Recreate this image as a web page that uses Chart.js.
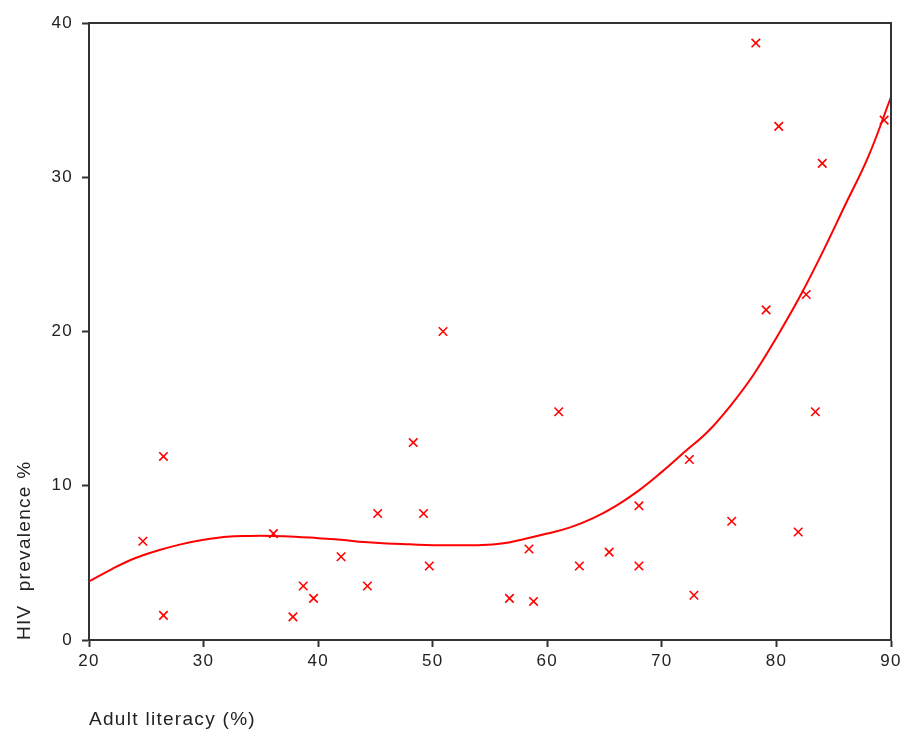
<!DOCTYPE html>
<html>
<head>
<meta charset="utf-8">
<script src="https://cdn.jsdelivr.net/npm/chart.js@4/dist/chart.umd.min.js"></script>
<style>
  html, body { margin: 0; padding: 0; background: #fff; }
  #wrap { width: 906px; height: 736px; }
</style>
</head>
<body>
<div id="wrap"><canvas id="c" width="906" height="736"></canvas></div>
<script>
// Scatter data: adult literacy (%) vs HIV prevalence (%)
const literacy = [24.7, 26.5, 26.5, 36.1, 37.8, 38.7, 39.6, 42.0, 44.3, 45.2, 48.3, 49.2, 49.7, 50.9,
  56.7, 58.4, 58.8, 61.0, 62.8, 65.4, 68.0, 68.0, 72.4, 72.8, 76.1, 78.2, 79.1, 80.2, 81.9, 82.6, 83.4, 84.0, 89.4];
const hivPrevalence = [6.4, 11.9, 1.6, 6.9, 1.5, 3.5, 2.7, 5.4, 3.5, 8.2, 12.8, 8.2, 4.8, 20.0,
  2.7, 5.9, 2.5, 14.8, 4.8, 5.7, 8.7, 4.8, 11.7, 2.9, 7.7, 38.7, 21.4, 33.3, 7.0, 22.4, 14.8, 30.9, 33.7];

// Fitted curve
const fitX = [20, 22, 24, 26, 28, 30, 32, 34, 36, 38, 40, 42, 44, 46, 48, 50, 52, 54, 56, 58, 60, 62,
  64, 66, 68, 70, 72, 74, 76, 78, 80, 82, 84, 86, 88, 90];
const fitY = [3.8, 4.6, 5.3, 5.8, 6.2, 6.5, 6.7, 6.75, 6.75, 6.7, 6.6, 6.5, 6.35, 6.25, 6.2, 6.15, 6.15, 6.15,
  6.25, 6.55, 6.9, 7.3, 7.9, 8.7, 9.7, 10.9, 12.2, 13.5, 15.2, 17.2, 19.6, 22.2, 25.1, 28.2, 31.3, 35.2];

const xTicks = [20, 30, 40, 50, 60, 70, 80, 90];
const yTicks = [0, 10, 20, 30, 40];
const xTitle = 'Adult literacy (%)';
const yTitle = 'HIV  prevalence %';

const RED = 'rgb(255,0,0)';
const AXIS = '#333';
const FONT = "'Liberation Sans', Arial, sans-serif";

const framePlugin = {
  id: 'frame',
  beforeDraw(chart) {
    chart.ctx.letterSpacing = '1.3px';
  },
  afterDatasetsDraw(chart) {
    const { ctx, chartArea: a } = chart;
    ctx.save();
    ctx.strokeStyle = AXIS;
    ctx.lineWidth = 2;
    ctx.beginPath();
    ctx.moveTo(a.left, a.top);
    ctx.lineTo(a.right, a.top);
    ctx.lineTo(a.right, a.bottom);
    ctx.stroke();
    ctx.restore();
  }
};

new Chart(document.getElementById('c'), {
  type: 'scatter',
  data: {
    datasets: [
      {
        label: 'fit',
        data: fitX.map((x, i) => ({ x, y: fitY[i] })),
        showLine: true,
        borderColor: RED,
        borderWidth: 2,
        pointRadius: 0,
        tension: 0.4,
        fill: false,
        order: 2
      },
      {
        label: 'countries',
        data: literacy.map((x, i) => ({ x, y: hivPrevalence[i] })),
        pointStyle: 'crossRot',
        pointRadius: 6,
        borderColor: RED,
        backgroundColor: RED,
        borderWidth: 1.6,
        order: 1
      }
    ]
  },
  options: {
    responsive: false,
    animation: false,
    devicePixelRatio: 1,
    layout: { padding: { top: 23, right: 15, left: 0, bottom: 0 } },
    plugins: { legend: { display: false }, tooltip: { enabled: false } },
    scales: {
      x: {
        type: 'linear',
        min: 20, max: 90,
        afterBuildTicks: s => { s.ticks = xTicks.map(v => ({ value: v })); },
        afterFit: s => { s.height = 96; },
        grid: { drawOnChartArea: false, drawTicks: true, tickLength: 7, tickWidth: 2, tickColor: AXIS },
        border: { color: AXIS, width: 2 },
        ticks: { color: '#222', font: { family: FONT, size: 17 }, padding: 4, maxRotation: 0 },
        title: { display: true, text: xTitle, align: 'start', color: '#222',
                 font: { family: FONT, size: 19, lineHeight: 1.2 }, padding: { top: 0, bottom: 5 } }
      },
      y: {
        type: 'linear',
        min: 0, max: 40,
        afterBuildTicks: s => { s.ticks = yTicks.map(v => ({ value: v })); },
        afterFit: s => { s.width = 89; },
        grid: { drawOnChartArea: false, drawTicks: true, tickLength: 7, tickWidth: 2, tickColor: AXIS },
        border: { color: AXIS, width: 2 },
        ticks: { color: '#222', font: { family: FONT, size: 17 }, padding: 9 },
        title: { display: true, text: yTitle, align: 'start', color: '#222',
                 font: { family: FONT, size: 19, lineHeight: 1.2 }, padding: { top: 13, bottom: 0 } }
      }
    }
  },
  plugins: [framePlugin]
});
</script>
</body>
</html>
